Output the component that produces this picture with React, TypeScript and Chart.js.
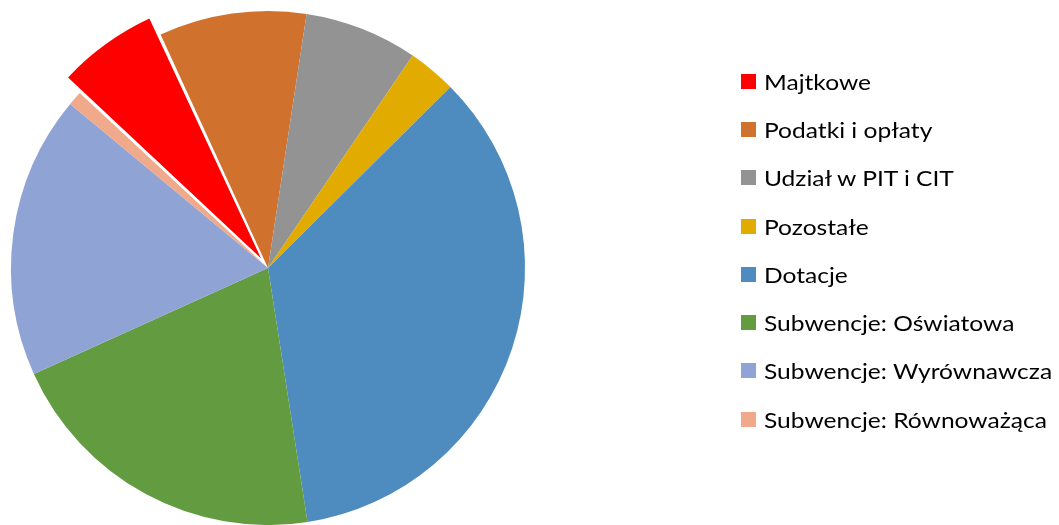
import React, { useEffect, useRef } from "react";
import { Chart, registerables } from "chart.js";

Chart.register(...registerables);

const labels = [
  "Majtkowe",
  "Podatki i opłaty",
  "Udział w PIT i CIT",
  "Pozostałe",
  "Dotacje",
  "Subwencje: Oświatowa",
  "Subwencje: Wyrównawcza",
  "Subwencje: Równoważąca",
];
const values = [6.22, 9.26, 7.12, 3.04, 34.98, 20.69, 17.78, 0.9];
const colors = [
  "#FF0000",
  "#D0712E",
  "#939393",
  "#E2AB00",
  "#4E8BBE",
  "#629B40",
  "#8FA3D4",
  "#F0A98A",
];
const offsets = [48, 0, 0, 0, 0, 0, 0, 0];

export default function App() {
  const ref = useRef<HTMLCanvasElement | null>(null);
  useEffect(() => {
    if (!ref.current) return;
    const chart = new Chart(ref.current, {
      type: "pie",
      data: {
        labels,
        datasets: [
          {
            data: values,
            backgroundColor: colors,
            borderWidth: 0,
            offset: offsets,
          },
        ],
      },
      options: {
        responsive: false,
        animation: false,
        rotation: -47.1,
        radius: 257,
        layout: { padding: { left: 0, right: 523, top: 11, bottom: 0 } },
        plugins: { legend: { display: false }, tooltip: { enabled: false } },
      },
    });
    return () => chart.destroy();
  }, []);
  return (
    <div style={{ position: "absolute", left: 0, top: 0, width: 1059, height: 525, background: "#fff" }}>
      <canvas ref={ref} width={1059} height={525} style={{ position: "absolute", left: 0, top: 0 }} />
      <div style={{ position: "absolute", left: 741, top: 57, fontFamily: "Lato", fontSize: 21, color: "#000" }}>
        {labels.map((l, i) => (
          <div key={l} style={{ display: "flex", alignItems: "center", height: 48.3, whiteSpace: "nowrap" }}>
            <span style={{ display: "inline-block", width: 15, height: 15, background: colors[i], marginRight: 8, flex: "none" }} />
            <span style={{ display: "inline-block", transform: "scaleX(1.17)", transformOrigin: "left center" }}>{l}</span>
          </div>
        ))}
      </div>
    </div>
  );
}
